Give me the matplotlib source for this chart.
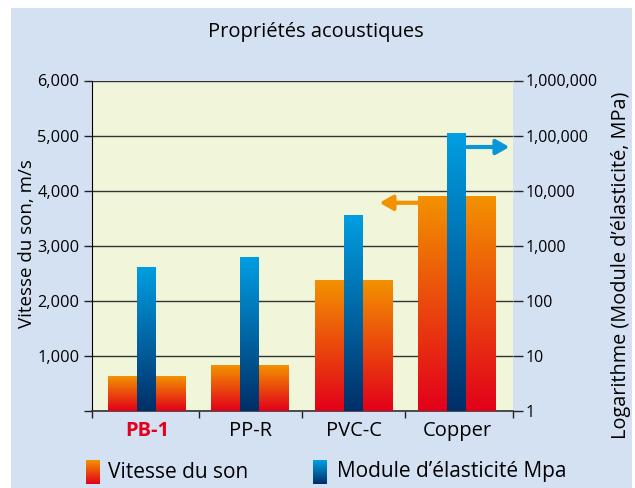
import numpy as np
import matplotlib
matplotlib.use("Agg")
import matplotlib.pyplot as plt
import matplotlib.transforms as mtransforms
from matplotlib.colors import LinearSegmentedColormap
from matplotlib.patches import Rectangle

plt.rcParams["font.family"] = ["Open Sans", "DejaVu Sans"]

# data
categories = ["PB-1", "PP-R", "PVC-C", "Copper"]
vitesse = [630, 830, 2370, 3900]          # m/s, left axis
module = [420, 640, 3700, 115000]         # MPa, right (log) axis
left_ticks = [0, 1000, 2000, 3000, 4000, 5000, 6000]
left_labels = ["", "1,000", "2,000", "3,000", "4,000", "5,000", "6,000"]
right_ticks = [1, 10, 100, 1000, 10000, 100000, 1000000]
right_labels = ["1", "10", "100", "1,000", "10,000", "1,00,000", "1,000,000"]

orange_top, orange_bot = "#f39200", "#e2001a"
blue_top, blue_bot = "#009fe3", "#002f68"
bg_blue = "#d4e1f2"
plot_yellow = "#f1f5da"

XLIM = (-0.53, 3.54)


def gradient(top, bot):
    return LinearSegmentedColormap.from_list("g", [bot, top])


def grad_bar(axis, x, h, w, top, bot, z, bottom=0):
    bar = axis.bar(x, h - bottom, w, bottom=bottom, color="none", zorder=z)[0]
    inv = axis.transAxes.inverted()
    y0 = inv.transform(axis.transData.transform((x, bottom)))[1]
    y1 = inv.transform(axis.transData.transform((x, h)))[1]
    tr = mtransforms.blended_transform_factory(axis.transData, axis.transAxes)
    im = axis.imshow(np.linspace(0, 1, 256).reshape(-1, 1), cmap=gradient(top, bot),
                     origin="lower", aspect="auto", interpolation="bilinear",
                     extent=(x - w / 2, x + w / 2, y0, y1), transform=tr, zorder=z)
    im.set_clip_path(bar)


fig = plt.figure(figsize=(6.35, 4.88), dpi=100, facecolor="white")
fig.patches.append(Rectangle((11 / 635, 0), 621 / 635, 480 / 488, transform=fig.transFigure,
                             facecolor=bg_blue, edgecolor="none", zorder=-10))

ax = fig.add_axes([92 / 635, 1 - 411 / 488, 421 / 635, 330.5 / 488])
ax.set_facecolor(plot_yellow)
ax.set_xlim(XLIM)
ax.set_ylim(0, 6000)
ax2 = ax.twinx()
ax2.set_yscale("log")
ax2.set_ylim(1, 1000000)
ax2.set_xlim(XLIM)
ax.set_autoscale_on(False)
ax2.set_autoscale_on(False)

x = np.arange(len(categories))
for xi, v in zip(x, vitesse):
    grad_bar(ax, xi, v, 0.75, orange_top, orange_bot, 3)
for xi, m in zip(x, module):
    grad_bar(ax2, xi, m, 0.19, blue_top, blue_bot, 3, bottom=1)

# arrows pointing to each axis
ax.annotate("", xy=(2.25, 3780), xytext=(3 - 0.375, 3780),
            arrowprops=dict(arrowstyle="-|>,head_length=0.7,head_width=0.4", color=orange_top,
                            lw=3, mutation_scale=11, shrinkA=0, shrinkB=0), zorder=4)
ax2.annotate("", xy=(3.505, 62000), xytext=(3 + 0.095, 62000),
             arrowprops=dict(arrowstyle="-|>,head_length=0.7,head_width=0.4", color="#0a96d8",
                             lw=3, mutation_scale=11, shrinkA=0, shrinkB=0), zorder=4)

# left axis
ax.set_yticks(left_ticks, labels=left_labels)
ax.yaxis.grid(True, color="#333333", lw=1)
ax.set_axisbelow(True)
ax.tick_params(axis="y", direction="out", length=6, width=1, labelsize=11.8, pad=3, color="#222222")

# x axis: ticks at group boundaries, names in between
ax.set_xticks([XLIM[0], 0.5, 1.5, 2.5, XLIM[1]], labels=[""] * 5)
ax.set_xticks(x, labels=categories, minor=True)
ax.tick_params(axis="x", which="major", direction="out", length=5, width=1, color="#222222")
ax.tick_params(axis="x", which="minor", length=0, labelsize=14.5, pad=7)
pb = ax.get_xticklabels(minor=True)[0]
pb.set_color("#e2001a")
pb.set_fontweight("bold")

for s in ["top", "right"]:
    ax.spines[s].set_visible(False)
ax.spines["left"].set_color("black")
ax.spines["bottom"].set_color("#333333")
ax.spines["bottom"].set_linewidth(1.2)

# right axis
for s in ax2.spines.values():
    s.set_visible(False)
ax2.set_yticks(right_ticks, labels=right_labels)
ax2.yaxis.set_minor_locator(matplotlib.ticker.NullLocator())
ax2.tick_params(axis="y", direction="out", length=7, width=1, labelsize=11.5, pad=2, color="#222222")

# axis titles and chart title
fig.text(27 / 635, 1 - 243.5 / 488, "Vitesse du son, m/s", rotation=90,
         ha="center", va="center", fontsize=13.5)
fig.text(621 / 635, 1 - 265 / 488, "Logarithme (Module d\u2019élasticité, MPa)", rotation=90,
         ha="center", va="center", fontsize=14.3)
fig.text(0.497, 0.934, "Propriétés acoustiques", ha="center", va="center", fontsize=14.5)

# legend
legend_items = [("Vitesse du son", orange_top, orange_bot, 86, 108),
                ("Module d\u2019élasticité Mpa", blue_top, blue_bot, 313, 337)]
for label, top, bot, px, tx in legend_items:
    lax = fig.add_axes([px / 635, 1 - 484 / 488, 14 / 635, 24 / 488])
    lax.imshow(np.linspace(0, 1, 64).reshape(-1, 1), cmap=gradient(top, bot),
               origin="lower", aspect="auto")
    lax.axis("off")
    fig.text(tx / 635, 1 - 472 / 488, label, ha="left", va="center", fontsize=15)

fig.savefig("out.png", dpi=100, facecolor=fig.get_facecolor())
